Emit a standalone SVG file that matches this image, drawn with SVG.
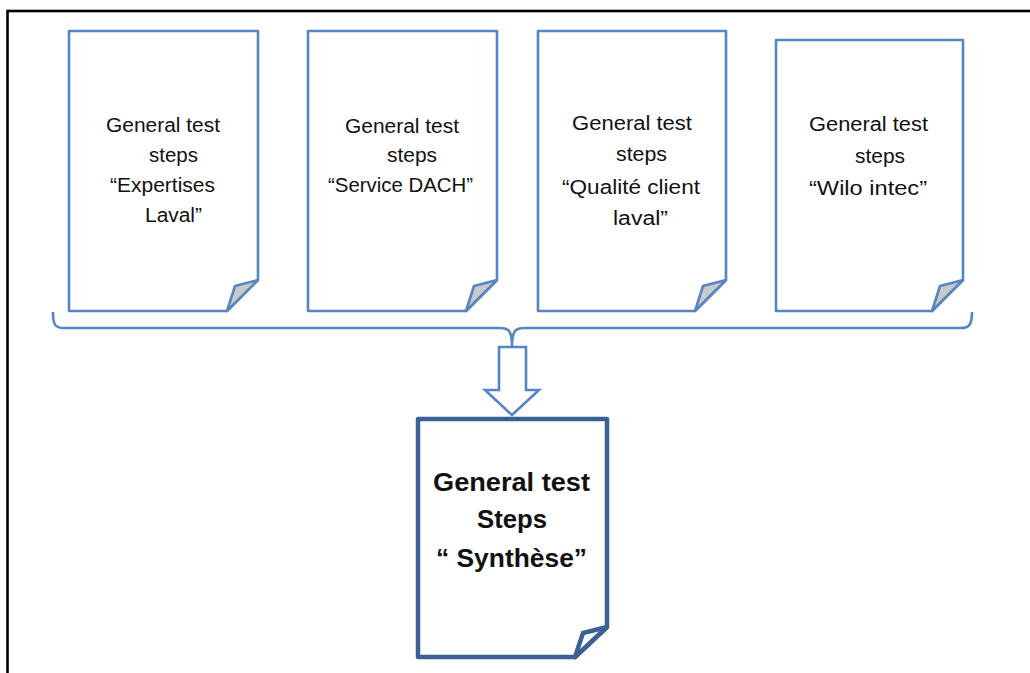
<svg xmlns="http://www.w3.org/2000/svg" width="1030" height="673" viewBox="0 0 1030 673">
  <style>
    .doc { fill: #ffffff; stroke: #5585c2; stroke-width: 2.6; stroke-linejoin: round; }
    .fold { fill: #c9c9c9; stroke: #5585c2; stroke-width: 2.6; stroke-linejoin: round; }
    .main { fill: #ffffff; stroke: #3d6194; stroke-width: 4.5; stroke-linejoin: round; }
    .mainfold { fill: #ffffff; stroke: #3d6194; stroke-width: 4.5; stroke-linejoin: round; }
    .lbl { font-family: "Liberation Sans", Arial, sans-serif; font-size: 19.5px; fill: #111111; }
    .big { font-family: "Liberation Sans", Arial, sans-serif; font-size: 25.5px; font-weight: bold; fill: #111111; }
    .link { fill: none; stroke: #5585c2; stroke-width: 2.6; }
  </style>

  <rect x="0" y="0" width="1030" height="673" fill="#ffffff"/>
  <!-- page frame -->
  <rect x="7.5" y="11" width="1040" height="700" fill="none" stroke="#000000" stroke-width="2.6"/>

  <g id="doc-expertises">
    <path class="doc" d="M69,31 H258 V280 L227,311 H69 Z"/>
    <path class="fold" d="M227,311 L235,286 L258,280 Z"/>
    <text class="lbl" x="106" y="132" textLength="114" lengthAdjust="spacingAndGlyphs">General test</text>
    <text class="lbl" x="149" y="162" textLength="49" lengthAdjust="spacingAndGlyphs">steps</text>
    <text class="lbl" x="110" y="192" textLength="105" lengthAdjust="spacingAndGlyphs">“Expertises</text>
    <text class="lbl" x="145" y="222" textLength="57" lengthAdjust="spacingAndGlyphs">Laval”</text>
  </g>

  <g id="doc-service-dach">
    <path class="doc" d="M308,31 H497 V280 L466,311 H308 Z"/>
    <path class="fold" d="M466,311 L474,286 L497,280 Z"/>
    <text class="lbl" x="345" y="133" textLength="114" lengthAdjust="spacingAndGlyphs">General test</text>
    <text class="lbl" x="387" y="162" textLength="50" lengthAdjust="spacingAndGlyphs">steps</text>
    <text class="lbl" x="328" y="192" textLength="145" lengthAdjust="spacingAndGlyphs">“Service DACH”</text>
  </g>

  <g id="doc-qualite">
    <path class="doc" d="M538,31 H726 V280 L695,311 H538 Z"/>
    <path class="fold" d="M695,311 L703,286 L726,280 Z"/>
    <text class="lbl" x="572" y="130" textLength="120" lengthAdjust="spacingAndGlyphs">General test</text>
    <text class="lbl" x="616" y="161" textLength="51" lengthAdjust="spacingAndGlyphs">steps</text>
    <text class="lbl" x="562" y="194" textLength="138" lengthAdjust="spacingAndGlyphs">“Qualité client</text>
    <text class="lbl" x="613" y="225" textLength="55" lengthAdjust="spacingAndGlyphs">laval”</text>
  </g>

  <g id="doc-wilo">
    <path class="doc" d="M776,40 H963 V280 L932,311 H776 Z"/>
    <path class="fold" d="M932,311 L940,286 L963,280 Z"/>
    <text class="lbl" x="809" y="131" textLength="119" lengthAdjust="spacingAndGlyphs">General test</text>
    <text class="lbl" x="855" y="163" textLength="50" lengthAdjust="spacingAndGlyphs">steps</text>
    <text class="lbl" x="809" y="195" textLength="118" lengthAdjust="spacingAndGlyphs">“Wilo intec”</text>
  </g>

  <g id="connectors">
    <!-- brace gathering the four documents -->
    <path class="link" d="M53,312 C53,325 55,328 64,328 L500,328 C509,328 512,331 512,347 C512,331 515,328 524,328 L961,328 C969,328 972,325 972,312"/>
    <!-- block arrow down to the synthesis -->
    <path class="link" fill="#ffffff" stroke-linejoin="miter" d="M499,347 H526 V390 H539 L512,415 L485,390 H499 Z"/>
  </g>

  <g id="doc-synthese">
    <path class="main" d="M418,419 H607 V627 L575,657 H418 Z"/>
    <path class="mainfold" d="M575,657 L583,633 L607,627 Z"/>
    <text class="big" x="433" y="491" textLength="157" lengthAdjust="spacingAndGlyphs">General test</text>
    <text class="big" x="477" y="528" textLength="70" lengthAdjust="spacingAndGlyphs">Steps</text>
    <text class="big" x="436" y="567" textLength="151" lengthAdjust="spacingAndGlyphs">“ Synthèse”</text>
  </g>
</svg>
